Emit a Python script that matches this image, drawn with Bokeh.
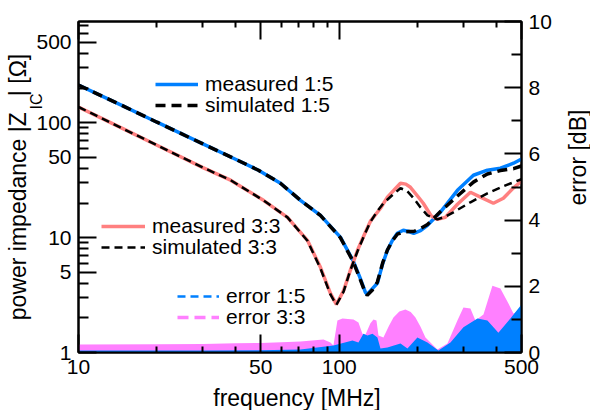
import math
from bokeh.plotting import figure
from bokeh.models import (Range1d, LinearScale, LinearAxis, LogAxis, FixedTicker,
                          PrintfTickFormatter, Legend, LegendItem, Label)
from bokeh.embed import file_html
from bokeh.resources import INLINE

# ---------------- data ----------------
freq_m15 = [10, 15, 20, 30, 40, 49, 59.5, 71, 84.7, 101, 113, 120, 126, 128, 134, 140, 147, 153,
            160, 167, 176, 185, 193, 205, 218, 244, 284, 327, 370, 415, 466, 500]
z_m15 = [213, 138, 101, 65.4, 48.1, 38.6, 29.7, 21.1, 15.6, 10.1, 6.3, 4.5, 3.34, 3.2, 3.6, 4.0, 6.0, 7.75,
         9.5, 10.9, 11.6, 11.3, 10.9, 11.5, 12.8, 16.6, 25.8, 34.9, 38.6, 40.2, 44.4, 48.2]
z_s15 = [213, 138, 101, 65.4, 48.1, 38.6, 29.7, 21.1, 15.6, 10.0, 6.2, 4.4, 3.3, 3.15, 3.5, 4.1, 6.1, 7.8,
         9.4, 10.7, 11.2, 11.3, 11.3, 12.0, 13.0, 16.8, 23.0, 30.4, 35.8, 38.3, 39.8, 42.0]

freq_m33 = [10, 15, 20, 30, 38.3, 51.2, 63.3, 75.5, 84.7, 92.5, 97.5, 104, 110, 117.5, 125, 131.7,
            144, 153, 162, 171.7, 180, 187.5, 200, 210, 225, 238, 255, 284, 318.5, 348, 390, 426, 465, 500]
z_m33 = [137, 87.5, 63.7, 40.7, 31.6, 21.1, 15.0, 9.47, 5.51, 3.27, 2.62, 3.47, 5.1, 7.75, 10.7, 13.9,
         18.0, 22.5, 25.8, 29.7, 29.2, 27.4, 22.9, 19.9, 15.5, 14.4, 15.0, 19.5, 24.8, 22.5, 19.9, 22.0, 27.0, 31.0]

freq_s33 = [10, 15, 20, 30, 38.3, 51.2, 63.3, 75.5, 84.7, 92.5, 97.5, 104, 110, 117.5, 125, 131.7,
            140, 147.7, 160, 171.7, 182, 193, 205, 218, 238, 255, 274, 318.5, 370, 426, 500]
z_s33 = [137, 87.5, 63.7, 40.7, 31.6, 21.1, 15.0, 9.4, 5.4, 3.2, 2.6, 3.4, 5.1, 7.6, 10.6, 13.7,
         17.0, 19.9, 23.5, 26.9, 25.5, 22.0, 18.3, 15.6, 14.4, 15.2, 16.6, 20.3, 24.3, 28.0, 32.2]

freq_e33 = [10, 20, 30, 40, 50, 60, 71, 87, 92.5, 95, 98.4, 102.9, 113.4, 118.5, 122.7, 126, 131.7,
            135.3, 138.9, 141.4, 147.7, 155, 161.4, 170, 179.4, 188, 196, 205, 214.1, 237.9, 260,
            283.9, 299.4, 318.5, 332.9, 357.3, 386.7, 415, 445.6, 465.6, 500]
err_33 = [0.24, 0.25, 0.26, 0.28, 0.29, 0.31, 0.33, 0.39, 0.30, 0.21, 0.97, 1.03, 1.00, 0.91, 0.57, 0.54, 0.88,
          1.00, 0.97, 0.51, 0.45, 0.80, 1.06, 1.24, 1.30, 1.22, 1.06, 0.78, 0.45, 0.09, 0.27,
          0.97, 1.36, 1.33, 0.97, 1.15, 2.02, 1.93, 1.48, 1.18, 1.30]

freq_e15 = [10, 30, 50, 71, 95, 112.4, 118.5, 123.8, 128.3, 134.1, 140.1, 143.9, 153, 171.7, 182.6,
            199.4, 217.9, 240.1, 267, 299.4, 338.8, 370.1, 407.7, 453.3, 500]
err_15 = [0.06, 0.06, 0.07, 0.09, 0.21, 0.36, 0.30, 0.57, 0.51, 0.57, 0.45, 0.12, 0.15, 0.27, 0.12,
          0.45, 0.30, 0.06, 0.30, 0.76, 1.03, 0.97, 0.60, 1.03, 1.45]

x_major = [10, 50, 100, 500]
x_minor = [20, 30, 40, 60, 70, 80, 90, 200, 300, 400]
y_major = [1, 5, 10, 50, 100, 500]
y_minor = [2, 3, 4, 6, 7, 8, 9, 20, 30, 40, 60, 70, 80, 90, 200, 300, 400, 600, 700]
e_major = [0, 2, 4, 6, 8, 10]
e_minor = [1, 3, 5, 7, 9]

BLUE = "#0080ff"
SALMON = "#ff8080"
MAGENTA = "#ff80ff"
FONT = "Liberation Sans"
NAN = float("nan")

p = figure(width=590, height=410, x_axis_type="log", y_axis_type="log",
           x_range=Range1d(10, 500), y_range=Range1d(1, 760),
           output_backend="svg", toolbar_location=None,
           min_border_left=78, min_border_right=69, min_border_top=21, min_border_bottom=58)
p.extra_y_ranges = {"err": Range1d(0, 10)}
p.extra_y_scales = {"err": LinearScale()}
p.xgrid.visible = False
p.ygrid.visible = False
p.outline_line_color = "black"
p.outline_line_width = 2
p.background_fill_color = "white"
p.border_fill_color = "white"


def style_axis(ax, major_in, minor_in, size="21px"):
    ax.major_tick_in = major_in
    ax.major_tick_out = 0
    ax.minor_tick_in = minor_in
    ax.minor_tick_out = 0
    ax.major_tick_line_width = 2
    ax.minor_tick_line_width = 2
    ax.major_tick_line_color = "black"
    ax.minor_tick_line_color = "black"
    ax.axis_line_width = 2
    ax.axis_line_color = "black"
    ax.major_label_text_font = FONT
    ax.major_label_text_font_size = size
    ax.major_label_text_color = "black"
    ax.major_label_standoff = 7


xt = FixedTicker(ticks=x_major, minor_ticks=x_minor)
yt = FixedTicker(ticks=y_major, minor_ticks=y_minor)
et = FixedTicker(ticks=e_major, minor_ticks=e_minor)

xa = p.xaxis[0]
xa.ticker = xt
xa.formatter = PrintfTickFormatter(format="%d")
style_axis(xa, 18, 6)

ya = p.yaxis[0]
ya.ticker = yt
ya.formatter = PrintfTickFormatter(format="%d")
style_axis(ya, 18, 10)
ya.axis_label = "power impedance |Z\u2002\u2009| [\u03a9]"
ya.axis_label_text_font = FONT
ya.axis_label_text_font_size = "23px"
ya.axis_label_text_font_style = "normal"
ya.axis_label_text_color = "black"
ya.axis_label_standoff = 2

# mirrored tick marks on top (no labels drawn)
top = LogAxis(ticker=xt, formatter=PrintfTickFormatter(format="%d"))
style_axis(top, 18, 6, size="0px")
top.major_label_text_color = None
top.major_label_standoff = 0
p.add_layout(top, "above")

ra = LinearAxis(y_range_name="err", ticker=et, formatter=PrintfTickFormatter(format="%d"))
style_axis(ra, 17, 10)
p.add_layout(ra, "right")

# error areas (right axis)
p.varea(x=freq_e33, y1=[0] * len(freq_e33), y2=err_33, y_range_name="err", fill_color=MAGENTA)
p.varea(x=freq_e15, y1=[0] * len(freq_e15), y2=err_15, y_range_name="err", fill_color=BLUE)

# impedance curves
r_m15 = p.line(freq_m15, z_m15, line_color=BLUE, line_width=3.5)
r_m33 = p.line(freq_m33, z_m33, line_color=SALMON, line_width=3.5)
r_s15 = p.line(freq_m15, z_s15, line_color="black", line_width=3.5, line_dash="10 6")
r_s33 = p.line(freq_s33, z_s33, line_color="black", line_width=2.5, line_dash="8 5")

# legend-only glyphs for the error areas (no drawable point)
r_le15 = p.line(x=[NAN], y=[NAN], line_color=BLUE, line_width=2.5, line_dash="8 5")
r_le33 = p.line(x=[NAN], y=[NAN], line_color=MAGENTA, line_width=3.5, line_dash="11 6")


def make_legend(label, rend, loc, gw):
    lg = Legend(items=[LegendItem(label=label, renderers=[rend])], location=loc,
                glyph_width=gw, glyph_height=20, label_height=20, spacing=0,
                label_standoff=7, padding=0, margin=0,
                label_text_font=FONT, label_text_font_size="21px", label_text_color="black",
                background_fill_alpha=0, border_line_alpha=0)
    p.add_layout(lg)


make_legend("measured 1:5", r_m15, (77, 256), 43)
make_legend("simulated 1:5", r_s15, (77, 235), 43)
make_legend("measured 3:3", r_m33, (23, 114), 44)
make_legend("simulated 3:3", r_s33, (23, 93), 44)
make_legend("error 1:5", r_le15, (99, 44), 42)
make_legend("error 3:3", r_le33, (99, 23), 42)


# text labels placed in the side panels
def lab(text, x, y, side, size="23px", angle=0.0, align="left"):
    l = Label(x=x, y=y, x_units="screen", y_units="screen", text=text, angle=angle,
              text_font=FONT, text_font_size=size, text_color="black",
              text_align=align, text_baseline="alphabetic")
    p.add_layout(l, side)


lab("IC", -42, -88, "above", size="16px", angle=math.pi / 2)
lab("frequency [MHz]", 218.5, 5, "below", align="center")
lab("error [dB]", 23, 147, "right", angle=math.pi / 2)

open("out.html", "w").write(file_html(p, INLINE))
